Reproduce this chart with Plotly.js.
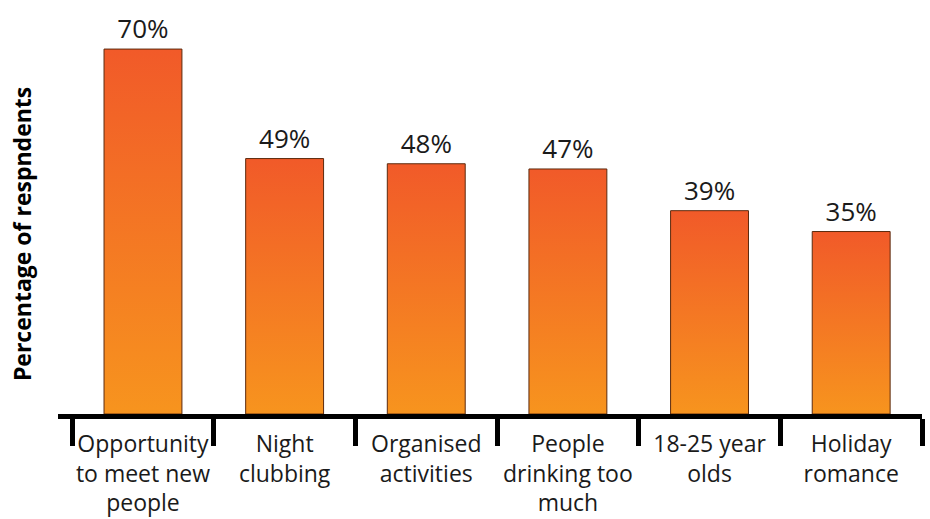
<!DOCTYPE html>
<html>
<head>
<meta charset="utf-8">
<script src="https://cdn.plot.ly/plotly-3.0.1.min.js"></script>
<style>html,body{margin:0;padding:0;background:#fff;}#chart{width:930px;height:519px;}</style>
</head>
<body>
<div id="chart"></div>
<script>
var categories = [
  "Opportunity<br>to meet new<br>people",
  "Night<br>clubbing",
  "Organised<br>activities",
  "People<br>drinking too<br>much",
  "18-25 year<br>olds",
  "Holiday<br>romance"
];
var values = [70, 49, 48, 47, 39, 35];
var valueLabels = values.map(function(v){ return v + "%"; });
var yTitle = "Percentage of respndents";

var trace = {
  type: "bar",
  x: categories,
  y: values,
  text: valueLabels,
  textposition: "outside",
  cliponaxis: false,
  textfont: {family: "Open Sans, sans-serif", size: 26, color: "#1a1a1a"},
  width: 0.55,
  marker: {color: "#F47A24", line: {color: "#5c2a0e", width: 1}},
  hoverinfo: "none"
};

var layout = {
  width: 930, height: 519,
  margin: {l: 58, r: 8, t: 23, b: 105},
  paper_bgcolor: "#fff", plot_bgcolor: "#fff",
  showlegend: false,
  font: {family: "Open Sans, sans-serif", color: "#1a1a1a"},
  xaxis: {
    type: "category",
    range: [-0.6, 5.5],
    showline: true, linecolor: "#000", linewidth: 5,
    ticks: "outside", tickson: "boundaries", ticklen: 27, tickwidth: 5, tickcolor: "#000",
    tickangle: 0,
    tickfont: {family: "Open Sans, sans-serif", size: 23, color: "#1a1a1a"},
    ticklabelstandoff: 5,
    showgrid: false, zeroline: false, fixedrange: true
  },
  yaxis: {
    range: [0, 75],
    showticklabels: false, showgrid: false, zeroline: false, showline: false, ticks: "",
    fixedrange: true
  },
  annotations: [{
    text: yTitle, textangle: -90, showarrow: false,
    xref: "paper", yref: "paper",
    x: -0.0417, y: 0.46, xanchor: "center", yanchor: "middle",
    font: {family: "Open Sans, sans-serif", size: 23, color: "#000", weight: "bold"}
  }]
};

Plotly.newPlot("chart", [trace], layout, {staticPlot: true, displayModeBar: false}).then(function(gd){
  var svg = gd.querySelector(".main-svg");
  var defs = svg.querySelector("defs");
  var ns = "http://www.w3.org/2000/svg";
  var lg = document.createElementNS(ns, "linearGradient");
  lg.setAttribute("id", "barGrad");
  lg.setAttribute("x1", "0"); lg.setAttribute("y1", "0");
  lg.setAttribute("x2", "0"); lg.setAttribute("y2", "1");
  [["0", "#F15A29"], ["1", "#F7941E"]].forEach(function(s){
    var st = document.createElementNS(ns, "stop");
    st.setAttribute("offset", s[0]);
    st.setAttribute("stop-color", s[1]);
    lg.appendChild(st);
  });
  defs.appendChild(lg);
  gd.querySelectorAll(".bars .point path").forEach(function(p){
    p.style.fill = "url(#barGrad)";
  });
});
</script>
</body>
</html>
